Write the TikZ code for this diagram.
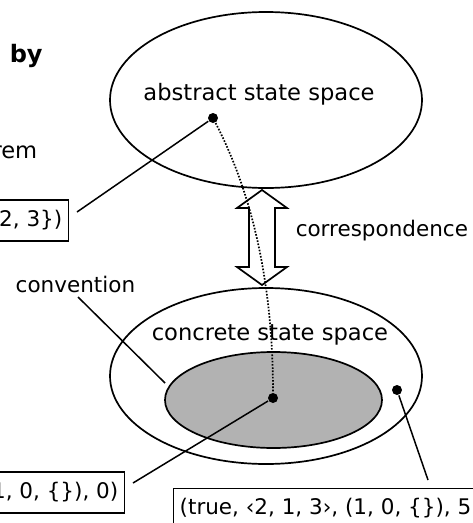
\documentclass[tikz,border=0pt]{standalone}
\usepackage{fontspec}
\setmainfont{DejaVu Sans}
\usetikzlibrary{shapes.geometric}
\definecolor{innergray}{gray}{0.7}
\tikzset{
  spaceline/.style={line width=1.7pt},
  space/.style={ellipse, draw, spaceline, inner sep=0pt},
  statedot/.style={circle, fill, inner sep=0pt, minimum size=10pt},
  statebox/.style={draw, line width=1.4pt, inner xsep=6pt, inner ysep=9pt,
    text height=17pt, text depth=6pt},
  spacename/.style={anchor=base west, inner sep=0pt},
  bigname/.style={font=\fontsize{22.6pt}{27pt}\selectfont}
}
\begin{document}
\begin{tikzpicture}[x=1pt, y=-1pt, line width=1.5pt,
    every node/.style={font=\fontsize{21.5pt}{26pt}\selectfont}]
  \useasboundingbox (0,0) rectangle (473,523);
  \clip (0,0) rectangle (473,523);
  % text cut off on the left
  \node[anchor=base west, inner sep=0pt, font=\fontsize{24pt}{28pt}\selectfont\bfseries] (by) at (9,62) {by};
  \node[anchor=base east, inner sep=0pt, bigname] (rem) at (38,158) {rem};

  % the two state spaces
  \node[space, minimum width=312pt, minimum height=176pt] (abstract) at (266,100) {};
  \node[space, minimum width=312pt, minimum height=176pt] (concrete) at (266,376) {};
  \node[space, fill=innergray, minimum width=217pt, minimum height=96pt] (inner) at (273.5,400) {};
  \node[anchor=base, inner sep=0pt, bigname] (abstractname) at (259,100) {abstract state space};
  \node[spacename, bigname] (concretename) at (151,340) {concrete state space};

  % correspondence arrow
  \draw[spaceline] (262,190) -- (287,208) -- (275,208) -- (275,267) -- (287,267)
    -- (262,285) -- (237,267) -- (249,267) -- (249,208) -- (237,208) -- cycle;
  \node[spacename] (corr) at (295,236) {correspondence};

  % states
  \node[statedot] (adot) at (213,118) {};
  \node[statedot] (cdot) at (273,398) {};
  \node[statedot] (odot) at (397,390) {};
  \draw[spaceline, dash pattern=on 1.6pt off 1.6pt] (adot) .. controls (258,205) and (273,300) .. (cdot);

  % state values
  \node[statebox, anchor=east] (abox) at (69,220.5) {2, 3\})};
  \node[statebox, anchor=east] (cbox) at (125,492.5) {1, 0, \{\}), 0)};
  \node[statebox, anchor=north west] (obox) at (173,488) {(true, ‹2, 1, 3›, (1, 0, \{\}), 5};
  \coordinate (aend) at (77,212);
  \coordinate (cend) at (133,483);
  \coordinate (oend) at (428,480);
  \draw (adot) -- (aend);
  \draw (cdot) -- (cend);
  \draw (odot) -- (oend);

  % convention
  \node[spacename] (conv) at (15,292) {convention};
  \coordinate (convstart) at (78,297);
  \coordinate (convend) at (165,383);
  \draw (convstart) -- (convend);
\end{tikzpicture}
\end{document}
